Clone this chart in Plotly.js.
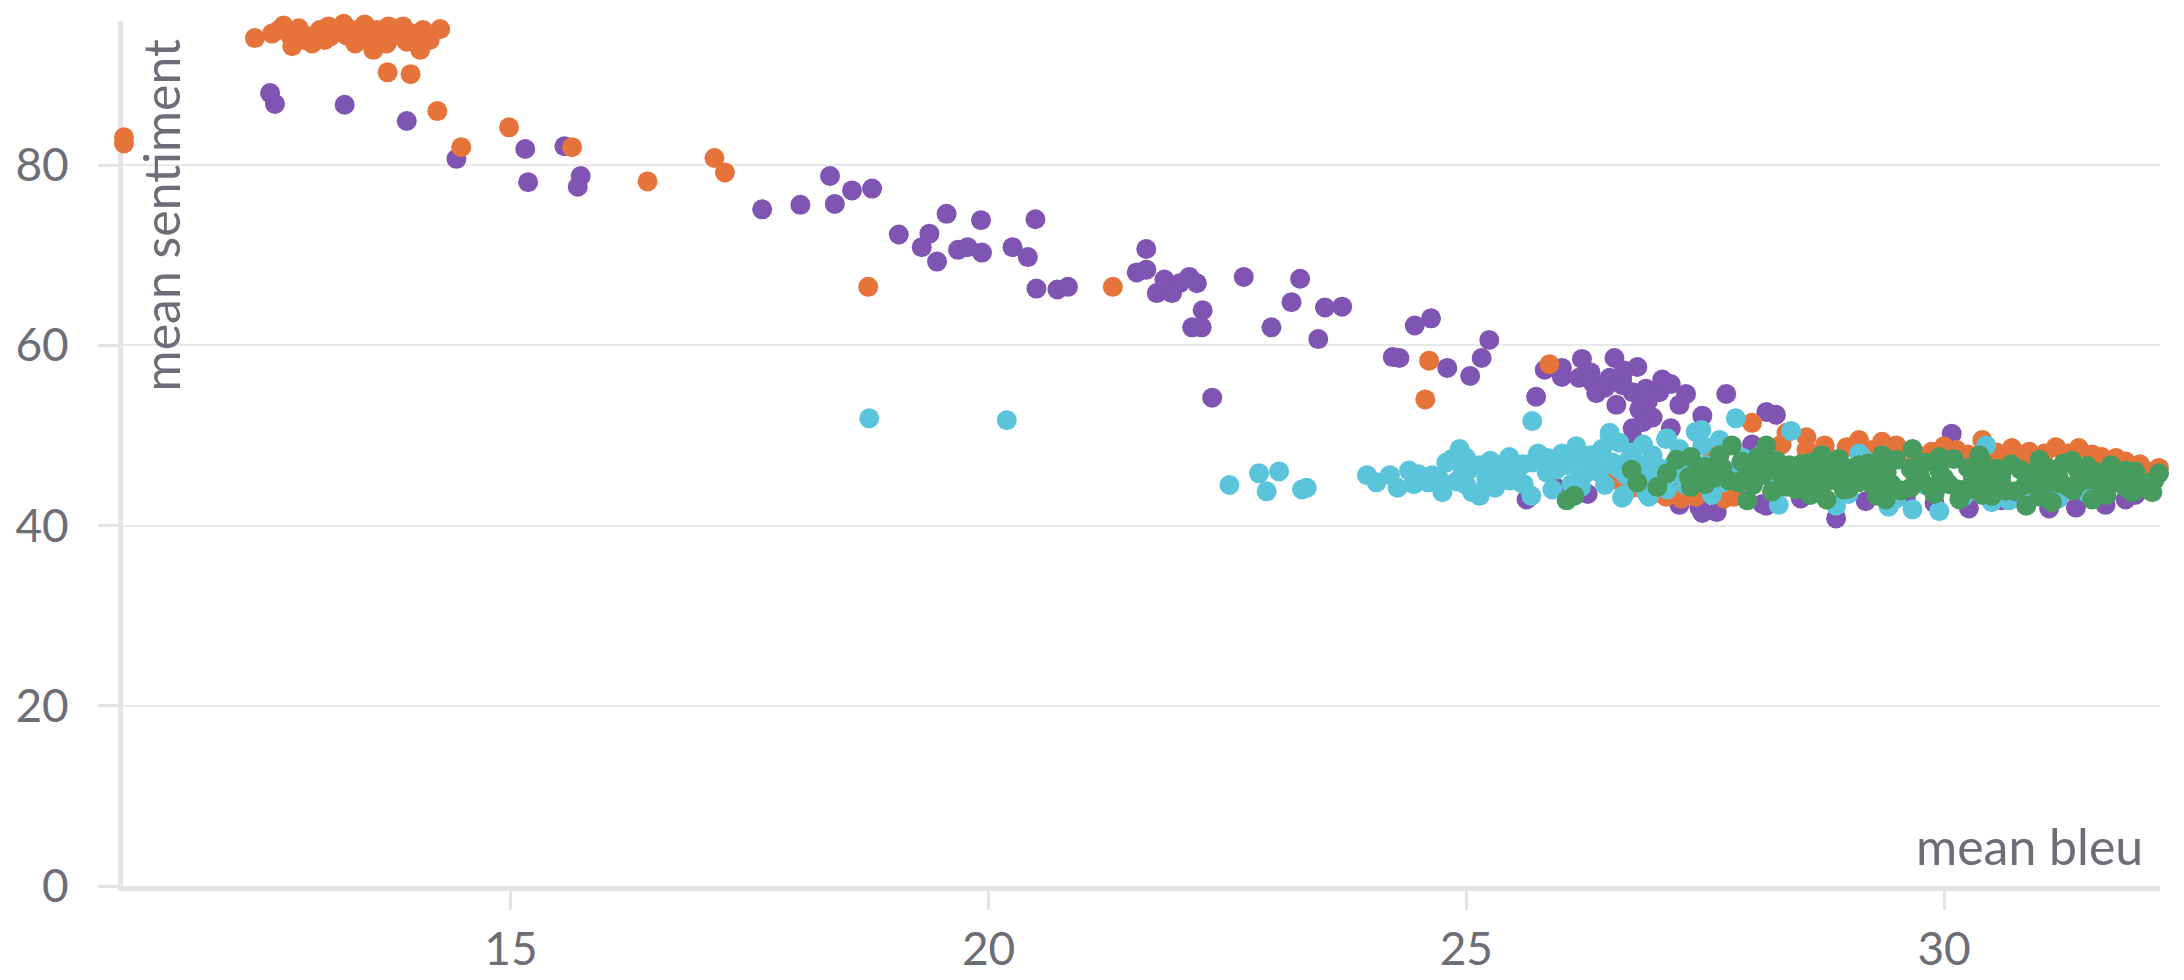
<!DOCTYPE html>
<html>
<head>
<meta charset="utf-8">
<script src="https://cdn.plot.ly/plotly-3.0.1.min.js"></script>
<style>html,body{margin:0;padding:0;background:#fff;}#chart{width:2184px;height:980px;}</style>
</head>
<body>
<div id="chart"></div>
<script>
// ---- data ----
const xTitle = "mean bleu";
const yTitle = "mean sentiment";

const purpleX = [12.48,12.53,13.26,13.91,14.43,15.15,15.18,15.56,15.73,15.70,17.63,18.03,18.34,18.39,18.57,18.78,19.06,19.30,19.38,19.46,19.56,19.68,19.78,19.92,19.93,20.25,20.41,20.49,20.50,20.72,20.83,21.55,21.65,21.65,21.76,21.84,21.92,22.00,22.10,22.18,22.24,22.13,22.23,22.34,22.67,22.96,23.17,23.26,23.45,23.52,23.70,24.23,24.30,24.46,24.63,24.80,25.04,25.16,25.24,25.73,25.82,26.00,26.00,26.21,26.18,26.32,26.36,26.55,26.50,26.63,26.79,26.57,26.74,26.81,26.95,26.88,27.02,27.14,27.23,26.74,26.74,27.14,27.47,27.72,28.14,28.24,26.63,25.63,25.94,26.27,27.23,27.44,27.47,27.62,28.10,27.99,30.08,28.87,28.14,29.18,30.26,31.10,31.38,31.69,28.50,29.60,29.90,30.60,30.90,31.90,32.00,29.30,28.30,27.80,26.45,26.90,27.05,26.65,26.30,27.30,26.85];
const purpleY = [88.0,86.8,86.7,84.9,80.7,81.8,78.1,82.1,78.8,77.6,75.1,75.6,78.8,75.7,77.2,77.4,72.3,70.9,72.4,69.3,74.6,70.6,70.9,73.9,70.3,70.9,69.8,74.0,66.3,66.2,66.5,68.1,68.4,70.7,65.8,67.3,65.8,66.9,67.6,66.9,63.9,62.0,62.0,54.2,67.6,62.0,64.8,67.4,60.7,64.2,64.3,58.7,58.6,62.2,63.0,57.5,56.6,58.6,60.6,54.3,57.3,57.5,56.5,58.5,56.4,55.9,54.7,58.6,56.4,56.2,57.6,53.4,54.8,52.9,52.0,55.2,54.8,55.7,53.4,50.8,49.7,50.8,52.2,54.6,52.6,52.3,55.6,42.9,44.2,43.5,42.3,42.0,41.4,41.5,42.4,49.0,50.2,40.8,42.2,42.7,41.9,41.9,42.0,42.3,43.0,43.2,42.5,42.8,43.0,42.9,43.4,44.0,44.5,43.5,55.3,53.8,56.2,57.2,57.0,54.6,51.5];

const orangeX = [10.95,10.95,12.32,12.50,12.62,12.69,12.71,12.78,12.88,12.92,13.00,13.09,13.11,13.19,13.25,13.28,13.37,13.39,13.47,13.51,13.56,13.60,13.70,13.72,13.80,13.87,13.91,13.98,14.05,14.08,14.15,14.26,12.57,12.84,13.05,13.42,13.64,14.01,13.71,13.95,14.23,14.48,14.98,15.64,16.43,17.13,17.24,18.74,21.30,24.61,24.57,25.87,26.18,26.57,26.74,27.09,27.40,27.57,27.80,27.99,28.35,28.56,28.56,28.98,29.11,29.35,29.50,29.87,30.13,30.40,30.71,30.89,31.17,31.41,31.65,31.90,32.25,28.80,29.00,29.70,30.30,30.60,31.00,31.30,31.70,32.00,28.40,27.90,27.20,29.30,28.75,29.25,29.70,30.00,30.25,30.55,30.85,31.05,31.30,31.55,31.80,32.05,32.15,28.30,27.70,27.25,26.95];
const orangeY = [83.1,82.4,94.1,94.6,95.5,94.4,93.2,95.2,94.3,93.5,95.0,95.4,94.3,94.8,95.7,94.4,93.5,95.0,95.6,93.9,92.8,95.0,93.5,95.4,94.4,95.4,93.7,94.6,92.8,95.0,93.9,95.1,95.0,93.9,93.9,94.2,94.2,93.7,90.3,90.1,86.0,82.0,84.2,82.0,78.2,80.8,79.2,66.5,66.5,58.3,54.0,57.9,47.2,45.1,44.2,43.2,43.2,47.6,43.2,51.4,50.3,49.8,48.4,48.7,49.5,49.3,48.9,48.2,48.4,49.5,48.6,48.2,48.7,48.6,47.6,47.1,46.4,47.5,46.0,47.0,46.5,47.2,46.8,47.0,46.2,45.5,46.0,45.5,44.5,45.5,48.9,48.4,48.0,48.8,47.9,48.1,47.6,48.0,48.0,47.9,47.5,46.8,46.0,49.0,43.0,43.0,43.5];

const cyanX = [18.75,20.19,22.52,22.83,22.91,23.04,23.28,23.33,23.96,24.06,24.28,24.40,24.50,24.64,24.72,24.75,24.79,24.85,24.93,25.03,25.06,24.96,25.14,25.14,25.21,25.31,25.38,25.45,25.52,25.59,25.69,25.68,25.69,25.84,25.94,26.05,26.12,26.18,26.26,26.39,26.42,26.50,26.53,26.63,26.67,26.74,26.81,26.88,26.95,27.05,27.09,27.16,27.23,27.30,27.40,27.47,27.51,27.57,27.68,27.82,27.90,28.00,28.27,28.40,28.69,29.14,30.44,28.27,28.87,29.42,29.67,29.95,30.50,30.68,29.00,29.50,30.20,30.90,31.20,31.50,27.75,28.10,28.50,29.80,26.50,27.10,27.46,26.65,26.91,27.57,29.11,25.00,25.30,25.60,25.90,26.20,26.30,26.00,25.75,26.60,26.90,27.20,27.35,27.60,27.10,26.45,24.60,24.20,25.45,26.85,27.65,24.45,24.90,25.25,25.55,25.85,26.10,26.35,26.70,27.00,27.30,27.45,25.00,26.15,26.60];
const cyanY = [51.9,51.7,44.5,45.8,43.8,46.0,44.0,44.2,45.6,44.8,44.2,46.1,45.7,45.6,45.1,43.7,47.0,47.4,48.5,46.2,43.7,45.9,43.3,46.7,45.1,45.9,46.8,45.0,45.9,46.8,47.0,43.3,51.6,45.9,46.2,46.7,47.2,45.1,45.9,45.9,48.5,50.0,47.0,43.1,45.6,48.1,46.7,43.7,47.8,45.1,49.6,46.7,48.5,44.5,50.4,48.9,46.7,43.7,44.8,51.9,47.5,45.0,45.1,50.5,43.9,47.6,48.9,42.3,42.2,42.1,41.8,41.6,42.6,42.8,43.5,43.0,43.2,43.5,43.0,43.6,46.0,48.0,44.8,44.5,50.3,49.7,50.6,43.4,43.2,43.4,48.0,44.5,44.2,44.6,44.0,44.3,47.8,48.0,48.0,46.3,45.5,45.8,47.5,45.8,44.0,44.5,44.8,45.6,47.6,49.0,49.5,44.6,44.9,47.2,44.9,47.5,44.6,46.6,47.3,46.5,47.0,45.5,47.5,48.8,49.2];

const greenX = [26.05,26.13,26.73,26.79,27.00,27.20,27.35,27.33,27.42,27.35,27.68,27.78,27.88,27.98,27.93,27.94,28.14,28.17,28.38,28.72,28.77,29.11,29.35,29.39,29.67,29.95,30.16,30.37,30.50,30.86,31.13,31.34,31.55,31.83,31.97,32.18,32.25,32.14,
  28.25,28.60,28.90,29.20,29.50,29.80,30.10,30.40,30.70,31.00,31.25,31.50,31.75,32.00,
  28.30,28.60,28.90,29.15,29.40,29.70,30.00,30.30,30.60,30.90,31.20,31.45,31.70,32.00,32.20,
  28.35,28.70,29.00,29.25,29.55,29.85,30.15,30.45,30.75,31.05,31.35,31.65,31.95,32.10,
  28.45,28.55,28.65,28.85,28.95,29.05,29.30,29.45,29.65,29.75,29.90,30.05,30.25,30.35,30.55,30.65,30.85,30.95,31.15,31.30,31.40,31.60,31.80,31.90,32.05,
  27.60,27.50,28.20,28.00,27.85,28.50,
  28.40,28.75,29.05,29.35,29.65,29.95,30.25,30.50,30.80,31.10,31.40,31.60,31.90,
  28.45,28.80,29.10,29.40,29.70,30.00,30.30,30.60,30.90,31.20,31.50,31.80,32.10,
  28.60,29.30,29.90,30.40,31.00,31.70,
  27.10,27.50,27.75,28.05,28.10,27.65];
const greenY = [42.8,43.3,46.2,44.8,44.3,47.3,47.6,45.4,45.8,44.3,46.4,48.9,47.1,46.7,45.4,42.8,48.9,46.2,46.7,47.8,42.9,46.7,47.8,42.9,48.5,47.6,42.9,47.8,43.3,42.2,42.6,47.2,42.9,45.9,43.7,43.7,45.8,44.0,
  47.2,47.0,47.4,46.9,47.3,47.0,47.4,47.1,46.8,47.3,46.9,46.6,46.7,46.0,
  45.6,45.9,45.7,45.4,45.9,45.6,45.3,45.8,45.5,45.7,45.3,45.5,45.6,45.2,45.0,
  44.3,44.6,44.1,44.5,43.9,44.3,44.0,44.4,43.8,44.3,43.9,44.2,43.9,44.2,
  44.0,45.6,44.3,45.2,44.0,45.5,45.8,44.6,44.2,45.4,43.8,44.6,44.0,45.5,46.3,43.9,44.5,46.0,45.6,44.3,44.7,45.8,45.0,44.2,44.5,
  45.3,46.5,43.8,44.5,44.8,46.8,
  46.3,46.1,46.4,46.0,46.3,46.1,46.4,46.0,46.2,46.3,46.1,45.9,46.1,
  44.9,45.0,44.8,45.1,44.9,44.7,45.0,44.8,45.0,44.7,45.1,44.8,44.7,
  43.4,43.3,43.5,43.4,43.2,43.4,
  45.8,44.6,45.0,47.6,45.6,47.8];

// ---- styling ----
const FONT = "Lato, 'Open Sans', sans-serif";
const TXT = "#6d6d78";
const AX = "#e4e4e7";
const MS = 20;

function series(x, y, color) {
  return {type: "scatter", mode: "markers", x: x, y: y, cliponaxis: false,
          marker: {size: MS, color: color, line: {width: 0}}, hoverinfo: "skip"};
}

const traces = [
  series(purpleX, purpleY, "#7f54b3"),
  series(orangeX, orangeY, "#e6743a"),
  series(cyanX, cyanY, "#5ac5da"),
  series(greenX, greenY, "#489b5f")
];

const xr = [10.94, 32.26];
const layout = {
  width: 2184, height: 980,
  margin: {l: 123, r: 24, t: 21, b: 94},
  paper_bgcolor: "#fff", plot_bgcolor: "#fff",
  showlegend: false,
  font: {family: FONT, color: TXT, size: 46},
  xaxis: {range: xr, dtick: 5, tick0: 0, showgrid: false, zeroline: false,
          showline: true, linecolor: AX, linewidth: 5,
          ticks: "outside", ticklen: 19, tickwidth: 3, tickcolor: AX,
          tickfont: {family: FONT, size: 46, color: TXT}, layer: "below traces"},
  xaxis2: {overlaying: "x", anchor: "y", side: "bottom", range: xr, dtick: 5, tick0: 0,
           showgrid: false, zeroline: false, showline: false, showticklabels: false,
           ticks: "inside", ticklen: 24, tickwidth: 3, tickcolor: AX, layer: "below traces"},
  yaxis: {range: [0, 96], dtick: 20, tick0: 0, showgrid: true, gridcolor: "#e8e8ea", gridwidth: 2,
          zeroline: false, showline: true, linecolor: AX, linewidth: 5,
          ticks: "outside", ticklen: 20, tickwidth: 3, tickcolor: AX, ticklabelstandoff: 20,
          tickfont: {family: FONT, size: 46, color: TXT}, layer: "below traces"},
  annotations: [
    {text: yTitle, textangle: -90, xref: "paper", yref: "paper", x: 0, y: 1,
     xanchor: "left", yanchor: "top", xshift: 5, yshift: -16, showarrow: false,
     font: {family: FONT, size: 50, color: TXT}},
    {text: xTitle, xref: "paper", yref: "paper", x: 1, y: 0,
     xanchor: "right", yanchor: "bottom", xshift: -15, yshift: 8, showarrow: false,
     font: {family: FONT, size: 50, color: TXT}}
  ]
};

Plotly.newPlot("chart", traces, layout, {staticPlot: true, displayModeBar: false});
</script>
</body>
</html>
